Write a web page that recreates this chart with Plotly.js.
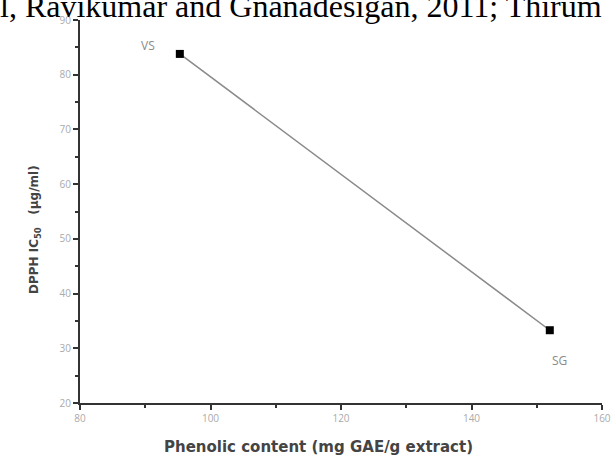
<!DOCTYPE html>
<html>
<head>
<meta charset="utf-8">
<script src="https://cdn.plot.ly/plotly-3.0.1.min.js"></script>
<style>html,body{margin:0;padding:0;background:#fff;}#chart{width:611px;height:467px;}</style>
</head>
<body>
<div id="chart"></div>
<script>
const phenolic = [95.3, 152.0];
const dpphIC50 = [83.8, 33.3];
const sampleLabels = ['VS', 'SG'];
const xTicks = [80, 100, 120, 140, 160];
const yTicks = [20, 30, 40, 50, 60, 70, 80, 90];
const headerText = 'l, Ravikumar and Gnanadesigan, 2011; Thirum';
const xTitle = 'Phenolic content (mg GAE/g extract)';
const yTitle = 'DPPH IC<sub>50</sub>&nbsp;&nbsp;&nbsp;(µg/ml)';

const trace = {
  x: phenolic, y: dpphIC50, type: 'scatter', mode: 'lines+markers',
  line: {color: '#8a8a8a', width: 1.5},
  marker: {symbol: 'square', size: 8, color: '#000'},
  hoverinfo: 'skip'
};

const W = 522, H = 383; // plot area px
const labelOffsets = [{ax: -32, ay: -8}, {ax: 10, ay: 30}];
const annotations = sampleLabels.map((t, i) => ({
  x: phenolic[i], y: dpphIC50[i], xref: 'x', yref: 'y', text: t,
  showarrow: true, arrowcolor: 'rgba(0,0,0,0)', ax: labelOffsets[i].ax, ay: labelOffsets[i].ay,
  font: {family: 'Open Sans, sans-serif', size: 12, color: '#8a8a8a'}
}));
annotations.push({
  xref: 'paper', yref: 'paper', x: -82/W, y: 1 + 14/H, xanchor: 'left', yanchor: 'middle',
  text: headerText, showarrow: false,
  font: {family: 'Liberation Serif, Times New Roman, serif', size: 32, color: '#000'}
});
annotations.push({
  xref: 'paper', yref: 'paper', x: (318 - 80)/W, y: -(447 - 403)/H, xanchor: 'center', yanchor: 'middle',
  text: xTitle, showarrow: false,
  font: {family: 'DejaVu Sans, sans-serif', size: 15, color: '#444', weight: 'bold'}
});
annotations.push({
  xref: 'paper', yref: 'paper', x: -(80 - 35)/W, y: (403 - 230)/H, xanchor: 'center', yanchor: 'middle',
  text: yTitle, showarrow: false, textangle: -90,
  font: {family: 'DejaVu Sans, sans-serif', size: 12, color: '#444', weight: 'bold'}
});

const axisCommon = {
  showgrid: false, zeroline: false, showline: true, linecolor: '#333', linewidth: 2,
  ticks: 'outside', ticklen: 5, tickwidth: 2, tickcolor: '#333',
  tickfont: {family: 'Open Sans, sans-serif', size: 10, color: '#aaa'}
};

const layout = {
  width: 611, height: 467,
  margin: {l: 80, r: 9, t: 20, b: 64},
  paper_bgcolor: '#fff', plot_bgcolor: '#fff',
  showlegend: false,
  xaxis: Object.assign({}, axisCommon, {
    range: [80, 160], tickvals: xTicks, ticktext: xTicks.map(String),
    minor: {dtick: 10, tick0: 80, ticks: 'outside', ticklen: 3, tickwidth: 2, tickcolor: '#333'}
  }),
  yaxis: Object.assign({}, axisCommon, {
    range: [20, 90], tickvals: yTicks, ticktext: yTicks.map(String),
    minor: {dtick: 5, tick0: 20, ticks: 'outside', ticklen: 3, tickwidth: 2, tickcolor: '#333'}
  }),
  annotations: annotations
};

Plotly.newPlot('chart', [trace], layout, {staticPlot: true, displayModeBar: false});
</script>
</body>
</html>
